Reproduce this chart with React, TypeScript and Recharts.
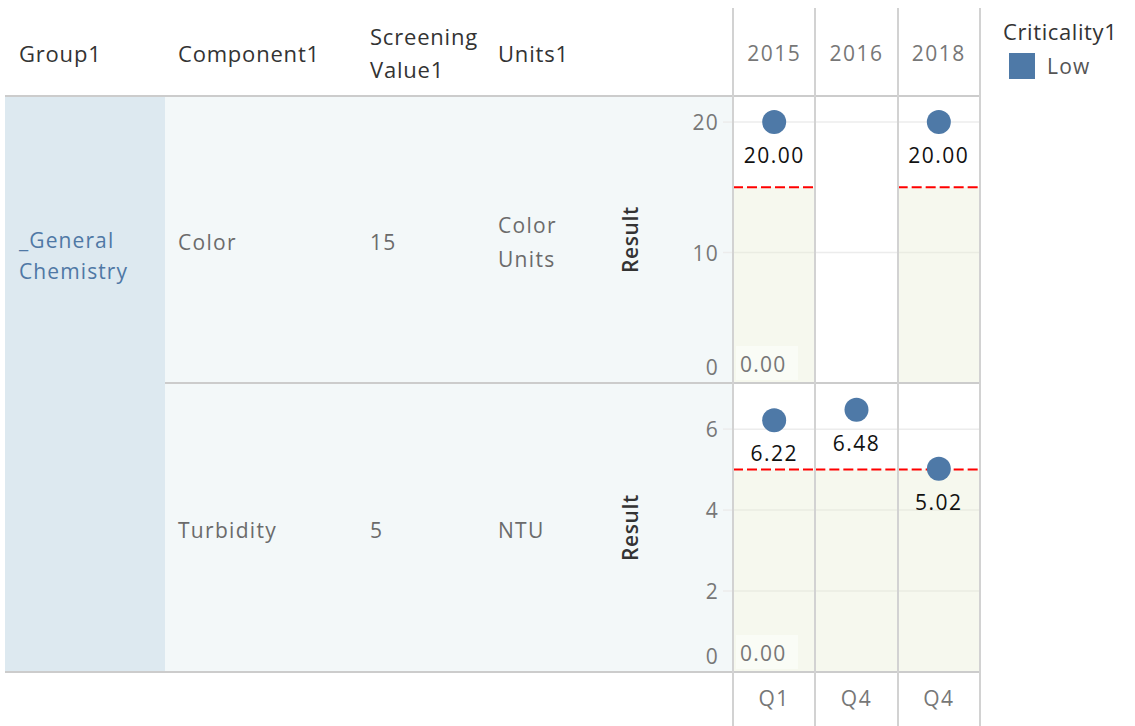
import React from 'react';
import { ComposedChart, Line, XAxis, YAxis, CartesianGrid, ReferenceArea, LabelList, Label } from 'recharts';

// ---------- data ----------
const columnKeys = ['2015 Q1', '2016 Q4', '2018 Q4'];
const yearLabels = ['2015', '2016', '2018'];
const quarterLabels = ['Q1', 'Q4', 'Q4'];
const colorResults: (number | null)[] = [20, null, 20];
const turbidityResults: (number | null)[] = [6.22, 6.48, 5.02];
const groupName = '_General Chemistry';
const componentNames = ['Color', 'Turbidity'];
const screeningValues = [15, 5];
const unitNames = ['Color Units', 'NTU'];
const colorTicks = [0, 10, 20];
const turbidityTicks = [0, 2, 4, 6];
const colorAxisMax = 22;
const turbidityAxisMax = 7.14;
const bandFloor = 0;
const headers = ['Group1', 'Component1', 'Screening Value1', 'Units1'];
const legendTitle = 'Criticality1';
const legendItems = ['Low'];

// ---------- style ----------
const FONT = '"Open Sans", "Noto Sans", sans-serif';
const MARK = '#4e79a7';
const GRID = '#d2d2d2';
const CHART_L = 600;
const CHART_W = 380;
const YAXIS_W = 133;
const PLOT_L = CHART_L + YAXIS_W;
const PLOT_R = CHART_L + CHART_W;
const P1_TOP = 96;
const P1_BOT = 383;
const P2_BOT = 672;

const YearTick = (props: any) => (
  <text x={props.x} y={props.y - 43} textAnchor="middle" dominantBaseline="central"
    fontFamily={FONT} fontSize={21} letterSpacing={1.5} fill="#777">{yearLabels[props.index]}</text>
);
const QuarterTick = (props: any) => (
  <text x={props.x} y={props.y + 26} textAnchor="middle" dominantBaseline="central"
    fontFamily={FONT} fontSize={21} letterSpacing={1.5} fill="#777">{quarterLabels[props.index]}</text>
);
const ValueTick = (props: any) => (
  <text x={props.x} y={props.payload.value === 0 ? props.y - 16 : props.y} textAnchor="end" dominantBaseline="central"
    fontFamily={FONT} fontSize={21} letterSpacing={1.2} fill="#777">{props.payload.value}</text>
);
const ResultLabel = (props: any) => {
  const vb = props.viewBox || { x: 0, y: 0, width: 0, height: 0 };
  const cx = vb.x + 30;
  const cy = vb.y + vb.height / 2;
  return (
    <text x={cx} y={cy} transform={`rotate(-90 ${cx} ${cy})`} textAnchor="middle" dominantBaseline="central"
      fontFamily={FONT} fontSize={21} fontWeight={600} letterSpacing={0.6} fill="#333">Result</text>
  );
};
const ValueLabel = (props: any) => {
  const { value } = props;
  if (value == null) return null;
  const x = props.x ?? props.viewBox?.x;
  const y = props.y ?? props.viewBox?.y;
  if (x == null || y == null) return null;
  return (
    <text x={x} y={y + 33} textAnchor="middle" dominantBaseline="central"
      fontFamily={FONT} fontSize={21} letterSpacing={1.5} fill="#111">{Number(value).toFixed(2)}</text>
  );
};
const Band = (props: any) => {
  const { x, y, width, height, showFloor } = props;
  return (
    <g>
      <rect x={x} y={y} width={width} height={height} fill="#e8eed5" fillOpacity={0.4} />
      {showFloor && (
        <g>
          <rect x={x + 3} y={y + height - 37} width={62} height={34} fill="#fafcf6" />
          <text x={x + 7} y={y + height - 19} dominantBaseline="central" fontFamily={FONT} fontSize={21}
            letterSpacing={1.2} fill="#777">{bandFloor.toFixed(2)}</text>
        </g>
      )}
      <line x1={x} x2={x + width} y1={y} y2={y} stroke="#ff0000" strokeWidth={2} strokeDasharray="10 4" />
    </g>
  );
};

function Panel({ results, screening, ticks, max, top, height, axis }: any) {
  const data = columnKeys.map((k, i) => ({ col: k, result: results[i] }));
  return (
    <div style={{ position: 'absolute', left: CHART_L, top }}>
      <ComposedChart width={CHART_W} height={height} data={data} margin={{ top: 0, right: 0, bottom: 0, left: 0 }}>
        <CartesianGrid horizontal vertical={false} stroke="#ececec" strokeWidth={1.5} />
        {axis === 'top' ? (
          <XAxis dataKey="col" type="category" scale="band" orientation="top" height={88} axisLine={false} tickLine={false}
            tickSize={0} tickMargin={0} interval={0} tick={<YearTick />} />
        ) : (
          <XAxis dataKey="col" type="category" scale="band" orientation="bottom" height={54} axisLine={false} tickLine={false}
            tickSize={0} tickMargin={0} interval={0} tick={<QuarterTick />} />
        )}
        <YAxis type="number" domain={[0, max]} ticks={ticks} width={YAXIS_W} allowDataOverflow axisLine={false}
          tickLine={{ stroke: '#ececec', strokeWidth: 1.5 }} tickSize={10} tickMargin={4} interval={0} tick={<ValueTick />}>
          <Label content={<ResultLabel />} />
        </YAxis>
        {columnKeys.map((k, i) =>
          results[i] == null ? null : (
            <ReferenceArea key={k} x1={k} x2={k} y1={bandFloor} y2={screening} ifOverflow="visible"
              shape={(p: any) => <Band {...p} showFloor={i === 0} />} />
          )
        )}
        <Line dataKey="result" stroke="none" isAnimationActive={false} activeDot={false} connectNulls={false}
          dot={(p: any) =>
            p.payload?.result == null || p.cy == null ? <g key={`d${p.index}`} /> :
              <circle key={`d${p.index}`} cx={p.cx} cy={p.cy} r={12} fill={MARK} />
          }>
          <LabelList dataKey="result" content={<ValueLabel />} />
        </Line>
      </ComposedChart>
    </div>
  );
}

const hLine = (y: number, x1: number, x2: number, key: string) => (
  <div key={key} style={{ position: 'absolute', left: x1, top: y - 1, width: x2 - x1, height: 2, background: '#cccccc' }} />
);

export default function App() {
  const rows = [
    { top: P1_TOP, bottom: P1_BOT },
    { top: P1_BOT, bottom: P2_BOT },
  ];
  const headerLefts = [19, 178, 370, 498];
  const headerWidths = [140, 180, 125, 100];
  const colW = (PLOT_R - PLOT_L) / columnKeys.length;
  return (
    <div style={{ position: 'relative', width: 1135, height: 726, fontFamily: FONT, overflow: 'hidden', background: '#fff' }}>
      <style>{'body{margin:0}'}</style>
      {/* table backgrounds */}
      <div style={{ position: 'absolute', left: 5, top: P1_TOP, width: 160, height: P2_BOT - P1_TOP, background: '#dde9f0' }} />
      <div style={{ position: 'absolute', left: 165, top: P1_TOP, width: PLOT_L - 165, height: P2_BOT - P1_TOP, background: '#f3f8f9' }} />

      {/* headers */}
      {headers.map((h, i) => (
        <div key={h} style={{ position: 'absolute', left: headerLefts[i], top: 7, height: 92, width: headerWidths[i], display: 'flex', alignItems: 'center',
          fontSize: 22, letterSpacing: 0.8, lineHeight: '33px', color: '#333' }}>{h}</div>
      ))}

      {/* group */}
      <div style={{ position: 'absolute', left: 19, top: 225, width: 140, fontSize: 21, letterSpacing: 1.1, lineHeight: '31px', color: '#4f78a5' }}>{groupName}</div>

      {/* component rows */}
      {rows.map((r, i) => (
        <React.Fragment key={i}>
          {[componentNames[i], String(screeningValues[i]), unitNames[i]].map((t, j) => (
            <div key={j} style={{ position: 'absolute', left: [178, 370, 498][j], top: r.top + 2, height: r.bottom - r.top, width: [170, 100, 90][j],
              display: 'flex', alignItems: 'center', fontSize: 21, letterSpacing: 1.3, lineHeight: '34px', color: '#6b6b6b' }}>{t}</div>
          ))}
        </React.Fragment>
      ))}

      <Panel results={colorResults} screening={screeningValues[0]} ticks={colorTicks} max={colorAxisMax} top={8} height={P1_BOT - 8} axis="top" />
      <Panel results={turbidityResults} screening={screeningValues[1]} ticks={turbidityTicks} max={turbidityAxisMax} top={P1_BOT} height={726 - P1_BOT} axis="bottom" />

      {/* frame lines */}
      {hLine(P1_TOP, 5, PLOT_R, 'h1')}
      {hLine(P1_BOT, 165, PLOT_R, 'h2')}
      {hLine(P2_BOT, 5, PLOT_R, 'h3')}
      {Array.from({ length: columnKeys.length + 1 }, (_, i) => (
        <div key={`v${i}`} style={{ position: 'absolute', left: PLOT_L + i * colW - 1, top: 8, width: 2, height: 718, background: GRID, pointerEvents: 'none' }} />
      ))}

      {/* legend */}
      <div style={{ position: 'absolute', left: 1003, top: 16, fontSize: 22, letterSpacing: 0.6, color: '#333', lineHeight: '30px' }}>{legendTitle}</div>
      {legendItems.map((item, i) => (
        <div key={item} style={{ position: 'absolute', left: 1009, top: 53 + i * 30, display: 'flex', alignItems: 'center' }}>
          <div style={{ width: 26, height: 26, background: MARK }} />
          <div style={{ marginLeft: 12, fontSize: 21, letterSpacing: 1.2, color: '#555', lineHeight: '26px' }}>{item}</div>
        </div>
      ))}
    </div>
  );
}
